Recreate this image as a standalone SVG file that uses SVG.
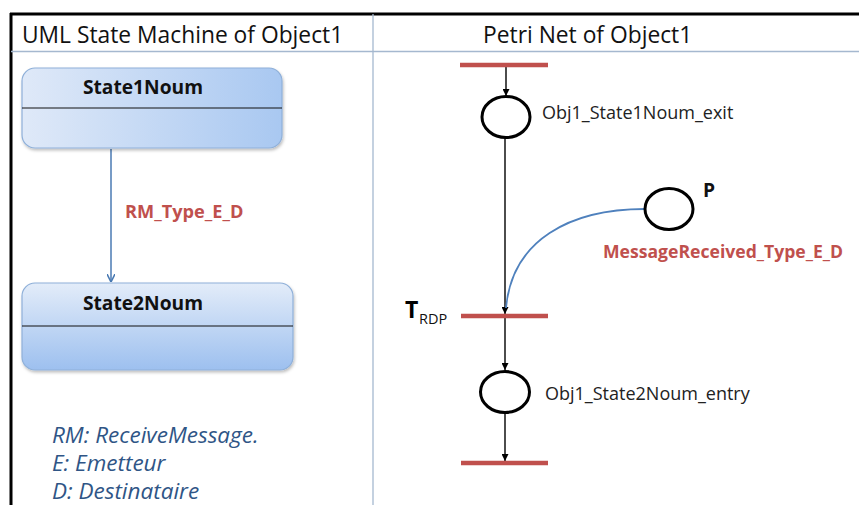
<svg xmlns="http://www.w3.org/2000/svg" width="859" height="505" viewBox="0 0 859 505">
<style>
.hdr{font-family:"Open Sans","Liberation Sans",sans-serif;font-size:22.8px;fill:#111}
.st{font-family:"Open Sans","Liberation Sans",sans-serif;font-size:19.2px;font-weight:bold;fill:#111}
.red{font-family:"Open Sans","Liberation Sans",sans-serif;font-weight:bold;fill:#c0504d}
.lbl{font-family:"Open Sans","Liberation Sans",sans-serif;font-size:18px;fill:#222}
.leg{font-family:"Open Sans","Liberation Sans",sans-serif;font-size:22.5px;font-style:italic;fill:#2f5586}
.bar{stroke:#c0504d;stroke-width:4.5;stroke-linecap:butt}
.place{fill:#fff;stroke:#000;stroke-width:3}
.arc{stroke:#000;stroke-width:1.4;fill:none}
.box{stroke:#8fb0d9;stroke-width:1.2}
</style>
<defs>
<linearGradient id="g1" x1="0" y1="0" x2="1" y2="0">
<stop offset="0" stop-color="#dfe9f8"/><stop offset="1" stop-color="#a9c8f1"/>
</linearGradient>
<linearGradient id="g2" x1="0" y1="0" x2="0" y2="1">
<stop offset="0" stop-color="#e3ecf9"/><stop offset="1" stop-color="#9dc0ef"/>
</linearGradient>
<filter id="sh" x="-10%" y="-10%" width="120%" height="130%">
<feDropShadow dx="1" dy="2" stdDeviation="1.5" flood-color="#000" flood-opacity="0.25"/>
</filter>
<marker id="ab" viewBox="0 0 10 10" refX="10" refY="5" markerWidth="7" markerHeight="7" markerUnits="userSpaceOnUse" orient="auto"><path d="M0,0 L10,5 L0,10 z" fill="#000"/></marker>
<marker id="ablue" viewBox="0 0 10 10" refX="10" refY="5" markerWidth="8" markerHeight="8" markerUnits="userSpaceOnUse" orient="auto"><path d="M0,0 L10,5 L0,10" fill="none" stroke="#4a7ab3" stroke-width="2"/></marker>
</defs>
<rect width="859" height="505" fill="#fff"/>
<g id="frame">
<line x1="10" y1="14" x2="859" y2="14" stroke="#000" stroke-width="3"/>
<line x1="11" y1="13" x2="11" y2="505" stroke="#000" stroke-width="3"/>
<line x1="11" y1="51.5" x2="859" y2="51.5" stroke="#a5b8cf" stroke-width="1.3"/>
<line x1="373" y1="14" x2="373" y2="505" stroke="#a5b8cf" stroke-width="1.3"/>
<text class="hdr" x="22" y="43">UML State Machine of Object1</text>
<text class="hdr" x="483" y="43">Petri Net of Object1</text>
</g>
<g id="connectors">
<line x1="111" y1="149" x2="111" y2="282" stroke="#4a7ab3" stroke-width="1.5" marker-end="url(#ablue)"/>
<line class="arc" x1="506" y1="67" x2="506" y2="96" marker-end="url(#ab)"/>
<line class="arc" x1="505" y1="138" x2="505" y2="314" marker-end="url(#ab)"/>
<path d="M645,209 C570,209 512,240 506,308" fill="none" stroke="#4f81bd" stroke-width="1.8"/>
<line class="arc" x1="505" y1="317" x2="505" y2="370" marker-end="url(#ab)"/>
<line class="arc" x1="505" y1="413" x2="505" y2="461" marker-end="url(#ab)"/>
<text class="red" x="125" y="218" font-size="18.2">RM_Type_E_D</text>
</g>
<g id="state1">
<rect class="box" x="22" y="68" width="260" height="80" rx="13" fill="url(#g1)" filter="url(#sh)"/>
<line x1="22" y1="108" x2="282" y2="108" stroke="#111" stroke-width="1"/>
<text class="st" x="143" y="94" text-anchor="middle">State1Noum</text>
</g>
<g id="state2">
<rect class="box" x="22" y="283" width="271" height="87" rx="13" fill="url(#g2)" filter="url(#sh)"/>
<line x1="22" y1="326" x2="293" y2="326" stroke="#111" stroke-width="1"/>
<text class="st" x="143" y="310" text-anchor="middle">State2Noum</text>
</g>
<g id="legend">
<text class="leg" x="52" y="443">RM: ReceiveMessage.</text>
<text class="leg" x="52" y="471">E: Emetteur</text>
<text class="leg" x="52" y="499">D: Destinataire</text>
</g>
<g id="t_top"><line class="bar" x1="460" y1="65" x2="548" y2="65"/></g>
<g id="p_exit">
<ellipse class="place" cx="506" cy="117" rx="24" ry="20.5"/>
<text class="lbl" x="542" y="119">Obj1_State1Noum_exit</text>
</g>
<g id="p_msg">
<ellipse class="place" cx="669" cy="209" rx="24" ry="20.5"/>
<text class="st" x="703" y="197" font-size="20">P</text>
<text class="red" x="603" y="258" font-size="17.6">MessageReceived_Type_E_D</text>
</g>
<g id="t_rdp">
<line class="bar" x1="461" y1="316" x2="548" y2="316"/>
<text font-family="Open Sans, Liberation Sans, sans-serif" font-weight="bold" font-size="23" fill="#000" x="405" y="318">T</text>
<text font-family="Open Sans, Liberation Sans, sans-serif" font-size="14.5" fill="#111" x="419" y="324">RDP</text>
</g>
<g id="p_entry">
<ellipse class="place" cx="505" cy="392" rx="24.5" ry="20.5"/>
<text class="lbl" x="545" y="400">Obj1_State2Noum_entry</text>
</g>
<g id="t_bottom"><line class="bar" x1="461" y1="463" x2="548" y2="463"/></g>
</svg>
